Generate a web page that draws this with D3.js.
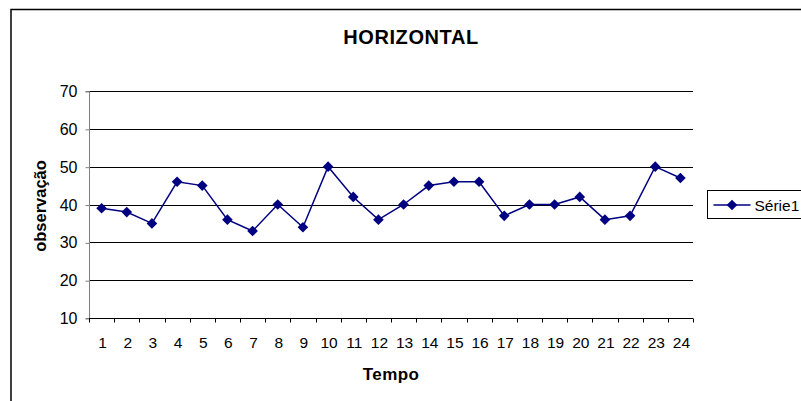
<!DOCTYPE html>
<html>
<head>
<meta charset="utf-8">
<script src="https://cdn.jsdelivr.net/npm/d3@7"></script>
<style>
  body { margin: 0; background: #fff; }
  svg { display: block; font-family: "Liberation Sans", Arial, sans-serif; }
</style>
</head>
<body>
<svg id="chart"></svg>
<script>
// dados
const tempo = d3.range(1, 25);
const serie1 = [39, 38, 35, 46, 45, 36, 33, 40, 34, 50, 42, 36,
                40, 45, 46, 46, 37, 40, 40, 42, 36, 37, 50, 47];
const yTicks = [10, 20, 30, 40, 50, 60, 70];
const titulo = "HORIZONTAL";
const nomeSerie = "Série1";

const width = 801, height = 401;
const margin = { left: 89, right: 108, top: 91, bottom: 83 };

const svg = d3.select("#chart")
    .attr("width", width)
    .attr("height", height);

// borda do gráfico
svg.append("rect")
    .attr("x", 11).attr("y", 9.5)
    .attr("width", 830).attr("height", 420)
    .attr("fill", "none")
    .attr("stroke", "#000")
    .attr("stroke-width", 1.5);

const x = d3.scaleBand()
    .domain(tempo)
    .range([margin.left, width - margin.right]);

const y = d3.scaleLinear()
    .domain([10, 70])
    .range([height - margin.bottom, margin.top]);

// linhas de grade
svg.append("g")
    .selectAll("line")
    .data(yTicks.slice(1))
    .enter().append("line")
    .attr("x1", margin.left).attr("x2", width - margin.right)
    .attr("y1", d => Math.round(y(d)) + 0.5)
    .attr("y2", d => Math.round(y(d)) + 0.5)
    .attr("stroke", "#000");

// eixo Y
const yAxis = svg.append("g")
    .attr("transform", `translate(${margin.left + 0.5},0.5)`)
    .call(d3.axisLeft(y).tickValues(yTicks).tickSize(4).tickPadding(8));
yAxis.select(".domain").attr("stroke", "#808080").attr("d", `M-4,${y(10)}H0V${y(70)}H-4`);
yAxis.selectAll(".tick line").attr("stroke", "#808080");
yAxis.selectAll("text")
    .attr("font-size", 16)
    .attr("fill", "#000")
    .attr("font-family", "Liberation Sans, Arial, sans-serif");

// eixo X com marcas nas fronteiras das categorias
const xAxisY = Math.round(y(10)) + 0.5;
svg.append("line")
    .attr("x1", margin.left).attr("x2", width - margin.right)
    .attr("y1", xAxisY).attr("y2", xAxisY)
    .attr("stroke", "#000");

const bounds = tempo.map(d => x(d)).concat([x(24) + x.bandwidth()]);
svg.append("g")
    .selectAll("line")
    .data(bounds)
    .enter().append("line")
    .attr("x1", d => Math.round(d) + 0.5).attr("x2", d => Math.round(d) + 0.5)
    .attr("y1", xAxisY).attr("y2", xAxisY + 4)
    .attr("stroke", "#000");

svg.append("g")
    .selectAll("text")
    .data(tempo)
    .enter().append("text")
    .attr("x", d => x(d) + x.bandwidth() / 2 + 1)
    .attr("y", 348)
    .attr("text-anchor", "middle")
    .attr("font-size", 15.5)
    .text(d => d);

// linha da série
const line = d3.line()
    .x((d, i) => x(tempo[i]) + x.bandwidth() / 2)
    .y(d => y(d));

svg.append("path")
    .datum(serie1)
    .attr("d", line)
    .attr("fill", "none")
    .attr("stroke", "#000080")
    .attr("stroke-width", 1.5);

const diamond = d3.symbol().type(d3.symbolDiamond2).size(72);

svg.append("g")
    .selectAll("path")
    .data(serie1)
    .enter().append("path")
    .attr("d", diamond)
    .attr("transform", (d, i) => `translate(${x(tempo[i]) + x.bandwidth() / 2},${y(d)})`)
    .attr("fill", "#000080");

// títulos
svg.append("text")
    .attr("x", 411).attr("y", 44)
    .attr("text-anchor", "middle")
    .attr("font-size", 20)
    .attr("font-weight", "bold")
    .attr("letter-spacing", 0.6)
    .text(titulo);

svg.append("text")
    .attr("x", 391).attr("y", 380)
    .attr("text-anchor", "middle")
    .attr("font-size", 17)
    .attr("font-weight", "bold")
    .attr("letter-spacing", 0.4)
    .text("Tempo");

svg.append("text")
    .attr("transform", "translate(46,206) rotate(-90)")
    .attr("text-anchor", "middle")
    .attr("font-size", 16.5)
    .attr("font-weight", "bold")
    .text("observação");

// legenda
const legend = svg.append("g").attr("transform", "translate(707.5,190.5)");
legend.append("rect")
    .attr("width", 120).attr("height", 28)
    .attr("fill", "#fff")
    .attr("stroke", "#000");
legend.append("line")
    .attr("x1", 6).attr("x2", 43)
    .attr("y1", 14.5).attr("y2", 14.5)
    .attr("stroke", "#000080")
    .attr("stroke-width", 1.5);
legend.append("path")
    .attr("d", diamond)
    .attr("transform", "translate(24.5,14.5)")
    .attr("fill", "#000080");
legend.append("text")
    .attr("x", 47).attr("y", 20)
    .attr("font-size", 15.5)
    .text(nomeSerie);
</script>
</body>
</html>
